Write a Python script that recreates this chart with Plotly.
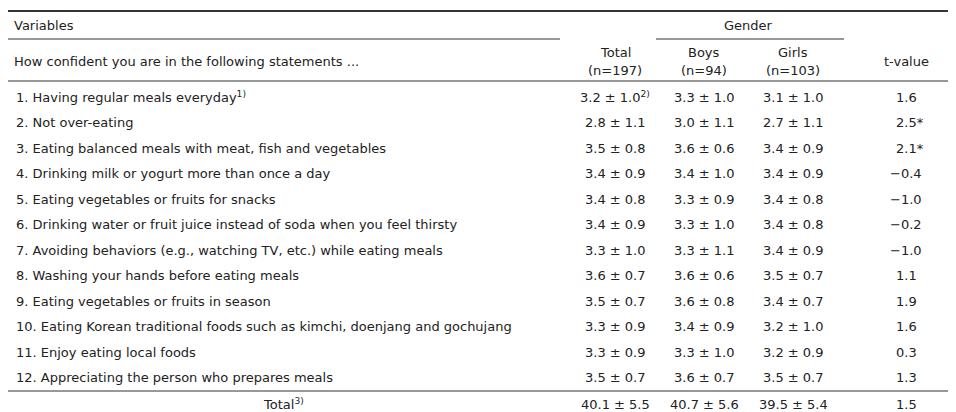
import plotly.graph_objects as go

items = ["1. Having regular meals everyday<sup>1)</sup>", "2. Not over-eating",
         "3. Eating balanced meals with meat, fish and vegetables",
         "4. Drinking milk or yogurt more than once a day",
         "5. Eating vegetables or fruits for snacks",
         "6. Drinking water or fruit juice instead of soda when you feel thirsty",
         "7. Avoiding behaviors (e.g., watching TV, etc.) while eating meals",
         "8. Washing your hands before eating meals",
         "9. Eating vegetables or fruits in season",
         "10. Eating Korean traditional foods such as kimchi, doenjang and gochujang",
         "11. Enjoy eating local foods",
         "12. Appreciating the person who prepares meals"]
total = ["3.2 ± 1.0<sup>2)</sup>", "2.8 ± 1.1", "3.5 ± 0.8", "3.4 ± 0.9", "3.4 ± 0.8", "3.4 ± 0.9",
         "3.3 ± 1.0", "3.6 ± 0.7", "3.5 ± 0.7", "3.3 ± 0.9", "3.3 ± 0.9", "3.5 ± 0.7"]
boys = ["3.3 ± 1.0", "3.0 ± 1.1", "3.6 ± 0.6", "3.4 ± 1.0", "3.3 ± 0.9", "3.3 ± 1.0",
        "3.3 ± 1.1", "3.6 ± 0.6", "3.6 ± 0.8", "3.4 ± 0.9", "3.3 ± 1.0", "3.6 ± 0.7"]
girls = ["3.1 ± 1.0", "2.7 ± 1.1", "3.4 ± 0.9", "3.4 ± 0.9", "3.4 ± 0.8", "3.4 ± 0.8",
         "3.4 ± 0.9", "3.5 ± 0.7", "3.4 ± 0.7", "3.2 ± 1.0", "3.2 ± 0.9", "3.5 ± 0.7"]
tvals = ["1.6", "2.5*", "2.1*", "−0.4", "−1.0", "−0.2", "−1.0", "1.1", "1.9", "1.6", "0.3", "1.3"]
total_row = ["Total<sup>3)</sup>", "40.1 ± 5.5", "40.7 ± 5.6", "39.5 ± 5.4", "1.5"]

FONT = dict(family="DejaVu Sans", size=13, color="#222")
cx = [607, 696, 785, 898]
ann = []
def t(x, y, s, anchor="center"):
    ann.append(dict(x=x, y=y, text=s, showarrow=False, xanchor=anchor, yanchor="middle",
                    font=FONT, borderpad=0))

t(5, 17, "Variables", "left")
t(740, 17, "Gender")
t(5, 53, "How confident you are in the following statements ...", "left")
t(cx[0], 44, "Total"); t(cx[0], 62, "(n=197)")
t(cx[1], 44, "Boys"); t(cx[1], 62, "(n=94)")
t(cx[2], 44, "Girls"); t(cx[2], 62, "(n=103)")
t(cx[3], 53, "t-value")
for i in range(len(items)):
    y = 89 + i * 25.5
    t(7, y, items[i], "left")
    t(cx[0], y, total[i]); t(cx[1], y, boys[i]); t(cx[2], y, girls[i])
    t(cx[3] + (4 if tvals[i].endswith("*") else 0), y, tvals[i])
t(275, 396, total_row[0])
for j in range(4):
    t(cx[j], 396, total_row[j + 1])

shapes = []
def line(x0, x1, y, w):
    shapes.append(dict(type="line", x0=x0, x1=x1, y0=y, y1=y, line=dict(color="#333", width=w)))
line(0, 956, 3, 2)
line(0, 552, 31, 1)
line(648, 836, 31, 1)
line(0, 956, 73, 1)
line(0, 956, 383, 1)
line(0, 956, 409, 2)

fig = go.Figure()
fig.update_layout(width=956, height=412, margin=dict(l=0, r=0, t=0, b=0, autoexpand=False),
                  paper_bgcolor="white", plot_bgcolor="white",
                  xaxis=dict(range=[0, 956], visible=False, fixedrange=True),
                  yaxis=dict(range=[412, 0], visible=False, fixedrange=True),
                  annotations=ann, shapes=shapes, showlegend=False)
fig.write_html("out.html", config={"displayModeBar": False})
